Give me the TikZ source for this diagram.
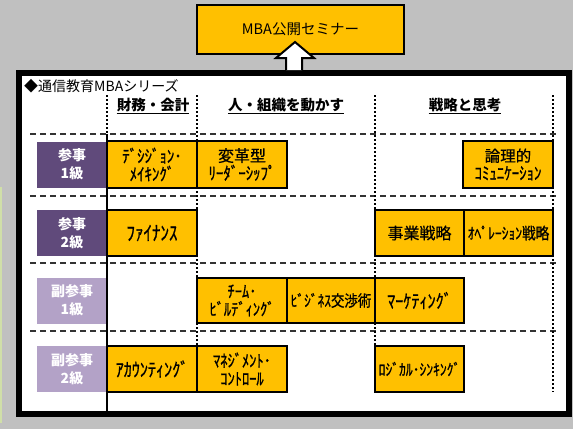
\documentclass[tikz,border=0pt]{standalone}
\usepackage{fontspec}
\setmainfont{Noto Sans CJK JP}
\newfontfamily\kana[FakeStretch=0.85, FakeBold=0.8]{Noto Sans CJK JP}
\newfontfamily\kanj[FakeBold=0.5]{Noto Sans CJK JP}
\definecolor{bg}{HTML}{C0C0C0}
\definecolor{yel}{HTML}{FFC000}
\definecolor{dpur}{HTML}{604A7B}
\definecolor{lpur}{HTML}{B3A2C7}
\definecolor{grn}{HTML}{D0DFA8}
\definecolor{dashc}{HTML}{333333}
\begin{document}
\begin{tikzpicture}[x=1pt,y=-1pt,
  ybox/.style={draw, line width=2pt, fill=yel, inner sep=0pt, align=center,
    minimum width=90pt, minimum height=46pt, font=\kana\fontsize{19}{18}\selectfont},
  lab/.style={fill=#1, text=white, inner sep=0pt, minimum width=70pt,
    minimum height=46pt, align=center, font=\bfseries\fontsize{14}{18}\selectfont},
  hdr/.style={inner sep=0pt, anchor=base, font=\bfseries\fontsize{14.5}{16}\selectfont},
  hline/.style={line width=1.5pt},
  dashline/.style={draw=dashc, line width=1.5pt, dash pattern=on 6pt off 4pt},
  dotline/.style={line width=2pt, dash pattern=on 2pt off 2pt},
  solidline/.style={line width=2pt}]
\useasboundingbox (0,0) rectangle (573,429);
\fill[bg] (0,0) rectangle (573,429);
\fill[grn] (0,187) rectangle (2,423);

% main frame
\node[draw, line width=6pt, fill=white, minimum width=550pt, minimum height=341pt, inner sep=0pt]
  (frame) at (294,243.5) {};

% top box
\node[draw, line width=2pt, fill=yel, minimum width=207pt, minimum height=49pt, inner sep=0pt,
  font=\fontsize{14.5}{16}\selectfont] (top) at (300.5,29.5) {MBA公開セミナー};

% block arrow from frame to top box
\draw[line width=2pt, fill=white, line join=miter]
  (286,70) -- (286,58) -- (276,58) -- (295,42) -- (314,58) -- (302,58) -- (302,70);

% title
\node[anchor=west, inner sep=0pt, font=\fontsize{14}{16}\selectfont] (title) at (24,86) {◆通信教育MBAシリーズ};

% headers
\node[hdr] (h1) at (153,110) {財務・会計};
\node[hdr] (h2) at (286,110) {人・組織を動かす};
\node[hdr] (h3) at (465,110) {戦略と思考};
\foreach \h in {h1,h2,h3}
  \draw[hline] ([yshift=-3.5pt]\h.base west) -- ([yshift=-3.5pt]\h.base east);

% horizontal dashed lines
\foreach \yy in {134,196,263,331}
  \draw[dashline] (30,\yy) -- (558,\yy);

% vertical lines
\draw[dotline] (107,95) -- (107,134);
\draw[solidline] (107,134) -- (107,411);
\foreach \xx in {197,375,553}
  \draw[dotline] (\xx,95) -- (\xx,392);

% row labels
\node[lab=dpur] (r1) at (72,164.5) {参事\\1級};
\node[lab=dpur] (r2) at (72,233) {参事\\2級};
\node[lab=lpur] (r3) at (72,300.5) {副参事\\1級};
\node[lab=lpur] (r4) at (72,369) {副参事\\2級};

% row 1
\node[ybox, minimum height=47pt, font=\kana\fontsize{17.5}{18}\selectfont] (b11) at (152,164.5) {ﾃﾞｼｼﾞｮﾝ･\\ﾒｲｷﾝｸﾞ};
\node[ybox, minimum height=47pt] (b12) at (242,164.5) {{\kanj\fontsize{16}{16}\selectfont 変革型}\\[0pt]{\kana\fontsize{17.5}{16}\selectfont ﾘｰﾀﾞｰｼｯﾌﾟ}};
\node[ybox, minimum height=47pt] (b13) at (508,164.5) {{\kanj\fontsize{15.5}{16}\selectfont 論理的}\\[0pt]{\kana\fontsize{17.5}{16}\selectfont ｺﾐｭﾆｹｰｼｮﾝ}};

% row 2
\node[ybox, font=\kana\fontsize{20}{18}\selectfont] (b21) at (152,233) {ﾌｧｲﾅﾝｽ};
\node[ybox, minimum width=89pt, font=\kanj\fontsize{16}{16}\selectfont] (b22) at (419.5,233) {事業戦略};
\node[ybox, minimum width=89pt, font=\kana\fontsize{16}{16}\selectfont] (b23) at (508.5,233) {ｵﾍﾟﾚｰｼｮﾝ戦略};

% row 3
\node[ybox, minimum height=45pt, font=\kana\fontsize{17}{18}\selectfont] (b31) at (242,300.5) {ﾁｰﾑ･\\ﾋﾞﾙﾃﾞｨﾝｸﾞ};
\node[ybox, minimum width=88pt, minimum height=45pt, font=\kana\fontsize{15.8}{16}\selectfont] (b32) at (331,300.5) {ﾋﾞｼﾞﾈｽ交渉術};
\node[ybox, minimum width=89pt, minimum height=45pt] (b33) at (419.5,300.5) {ﾏｰｹﾃｨﾝｸﾞ};

% row 4
\node[ybox] (b41) at (152,369) {ｱｶｳﾝﾃｨﾝｸﾞ};
\node[ybox, font=\kana\fontsize{17}{18}\selectfont] (b42) at (242,369) {ﾏﾈｼﾞﾒﾝﾄ･\\ｺﾝﾄﾛｰﾙ};
\node[ybox, minimum width=89pt, font=\kana\fontsize{16}{16}\selectfont] (b43) at (419.5,369) {ﾛｼﾞｶﾙ･ｼﾝｷﾝｸﾞ};

\draw[solidline] (107,188) -- (107,411);
\end{tikzpicture}
\end{document}
